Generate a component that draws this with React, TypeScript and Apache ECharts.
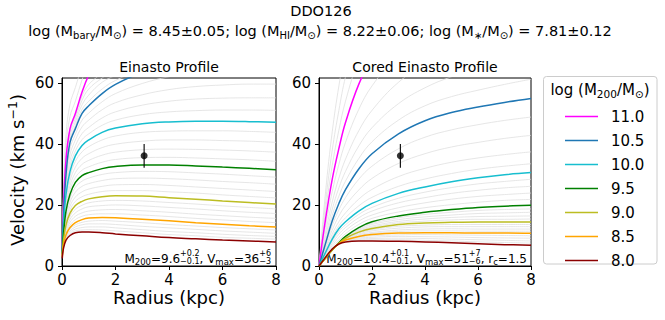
import React, { useEffect, useRef } from "react";
import * as echarts from "echarts";

const FONT = "DejaVu Sans";

// ---------- data ----------
const radiusEinasto = [0.01, 0.05, 0.15, 0.3, 0.5, 0.75, 1, 1.5, 2, 3, 4, 5, 6, 7, 8];
const radiusCored = [0, 0.25, 0.5, 0.75, 1, 1.5, 2, 3, 4, 5, 6, 7, 8];

const legendLabels = ["11.0", "10.5", "10.0", "9.5", "9.0", "8.5", "8.0"];
const legendColors = ["#ff00ff", "#1f77b4", "#17becf", "#008000", "#bcbd22", "#ffa500", "#8b0000"];

// Einasto profile, highlighted halo masses (log M200 = 11.0 ... 8.0)
const einasto110 = [5.5, 18, 35, 45, 50, 57, 62.5, 70, 76, 84, 90, 94, 97, 99, 100];
const einasto105 = [5, 15, 30, 40.5, 45, 50, 52.5, 56.5, 59.5, 63.5, 66, 67.5, 68.3, 68.7, 68.8];
const einasto100 = [4.5, 12.5, 23.5, 31, 36.1, 39.5, 41.3, 43.8, 45.2, 46.6, 47.2, 47.4, 47.4, 47.3, 47.1];
const einasto95 = [4, 10, 18, 23.5, 27.4, 29.6, 30.6, 31.9, 32.6, 33.1, 33.1, 32.8, 32.4, 32.0, 31.5];
const einasto90 = [3.5, 8, 13.5, 17.3, 19.8, 21.2, 22.0, 22.7, 23.0, 22.9, 22.4, 21.9, 21.3, 20.8, 20.3];
const einasto85 = [3, 6.5, 10.2, 12.6, 14.2, 15.2, 15.7, 15.9, 15.8, 15.3, 14.8, 14.2, 13.7, 13.2, 12.8];
const einasto80 = [2.5, 5.5, 8.5, 10.0, 10.9, 11.1, 11.1, 10.9, 10.5, 9.9, 9.3, 8.9, 8.5, 8.2, 7.9];

// Einasto profile, grey model grid (log M200 = 8.1 ... 11.2, skipping highlighted ones)
const einastoGrey = [
  [2.6, 5.7, 8.8, 10.5, 11.5, 11.8, 11.9, 11.8, 11.5, 10.9, 10.3, 9.9, 9.4, 9.1, 8.8],
  [2.7, 5.9, 9.1, 11.0, 12.1, 12.6, 12.8, 12.8, 12.5, 11.9, 11.3, 10.9, 10.4, 10.0, 9.7],
  [2.8, 6.1, 9.5, 11.5, 12.8, 13.5, 13.8, 13.8, 13.6, 13.0, 12.5, 12.0, 11.5, 11.1, 10.7],
  [2.9, 6.3, 9.8, 12.1, 13.5, 14.3, 14.7, 14.9, 14.7, 14.2, 13.6, 13.1, 12.6, 12.2, 11.8],
  [3.1, 6.8, 10.8, 13.4, 15.2, 16.3, 16.8, 17.1, 17.1, 16.7, 16.2, 15.6, 15.1, 14.6, 14.2],
  [3.2, 7.1, 11.4, 14.3, 16.3, 17.4, 18.0, 18.4, 18.5, 18.1, 17.6, 17.0, 16.5, 16.0, 15.6],
  [3.3, 7.4, 12.1, 15.3, 17.4, 18.7, 19.4, 19.8, 20.0, 19.7, 19.2, 18.7, 18.1, 17.6, 17.2],
  [3.4, 7.7, 12.8, 16.3, 18.6, 19.9, 20.7, 21.3, 21.5, 21.3, 20.8, 20.3, 19.7, 19.2, 18.7],
  [3.6, 8.4, 14.3, 18.4, 21.2, 22.7, 23.5, 24.4, 24.7, 24.7, 24.3, 23.9, 23.3, 22.8, 22.3],
  [3.7, 8.7, 15.2, 19.6, 22.6, 24.3, 25.2, 26.1, 26.6, 26.7, 26.4, 25.9, 25.4, 24.9, 24.4],
  [3.8, 9.2, 16.1, 20.9, 24.2, 26.1, 27.0, 28.0, 28.6, 28.8, 28.6, 28.2, 27.7, 27.3, 26.8],
  [3.9, 9.6, 17.1, 22.2, 25.8, 27.8, 28.8, 30.0, 30.6, 31.0, 30.9, 30.5, 30.1, 29.6, 29.1],
  [4.1, 10.5, 19.0, 24.9, 29.0, 31.4, 32.5, 34.0, 34.9, 35.5, 35.6, 35.4, 35.1, 34.8, 34.3],
  [4.2, 10.9, 20.0, 26.3, 30.6, 33.3, 34.6, 36.3, 37.3, 38.1, 38.3, 38.2, 38.0, 37.7, 37.3],
  [4.3, 11.5, 21.2, 27.9, 32.4, 35.3, 36.8, 38.8, 39.9, 40.9, 41.3, 41.3, 41.1, 40.9, 40.5],
  [4.4, 12.0, 22.3, 29.4, 34.3, 37.4, 39.1, 41.3, 42.6, 43.8, 44.2, 44.3, 44.3, 44.1, 43.8],
  [4.6, 13.0, 24.7, 32.7, 37.7, 41.4, 43.3, 46.1, 47.8, 49.6, 50.5, 50.9, 51.1, 51.1, 51.0],
  [4.7, 13.4, 25.9, 34.5, 39.4, 43.4, 45.4, 48.5, 50.5, 52.7, 54.0, 54.7, 55.0, 55.1, 55.1],
  [4.8, 14.0, 27.3, 36.5, 41.3, 45.6, 47.8, 51.2, 53.5, 56.1, 57.8, 58.8, 59.3, 59.6, 59.6],
  [4.9, 14.5, 28.6, 38.5, 43.1, 47.8, 50.1, 53.8, 56.5, 59.8, 62, 63.2, 63.8, 64.1, 64.1],
  [5.1, 15.6, 31, 41.5, 46, 51.3, 54, 58, 60.8, 64.5, 67.5, 69.5, 71, 72, 72.5],
  [5.2, 16.2, 32, 42.7, 47.2, 52.8, 56, 60.2, 62.5, 67, 71, 73.5, 75.5, 76.5, 77],
  [5.3, 16.8, 33.2, 43.8, 48.3, 54.3, 58, 61.6, 64.5, 71, 76, 79, 81, 82.5, 83],
  [5.4, 17.4, 34.2, 44.8, 49.2, 55.7, 59.5, 63.5, 70, 77, 82, 86, 88.5, 90.5, 91.5],
  [6, 21, 39, 49, 54, 61, 67, 76, 83, 92, 99, 104, 107, 109, 110],
  [6.5, 24, 43, 53, 58.5, 65.5, 72, 82, 90, 100, 107, 112, 116, 118, 119],
];

// Cored Einasto profile, highlighted halo masses
const cored110 = [0, 15.5, 28.5, 38.5, 47, 59.5, 68, 80, 88, 94, 98, 101, 103];
const cored105 = [0, 7.5, 14.8, 20.5, 25, 31.8, 36.8, 43.3, 47.6, 50.3, 52.1, 53.6, 54.9];
const cored100 = [0, 4.5, 8.8, 12.2, 14.5, 18.0, 20.5, 23.8, 25.9, 27.6, 28.9, 29.9, 30.6];
const cored95 = [0, 2.6, 5.2, 7.6, 9.7, 12.6, 14.5, 16.4, 17.6, 18.5, 19.2, 19.6, 19.9];
const cored90 = [0, 2.7, 5.3, 7.4, 9.1, 11.1, 12.3, 13.6, 14.1, 14.3, 14.4, 14.4, 14.4];
const cored85 = [0, 2.8, 5.4, 7.3, 8.5, 9.7, 10.3, 10.8, 10.9, 10.9, 10.8, 10.8, 10.7];
const cored80 = [0, 2.9, 5.6, 7.2, 7.9, 8.2, 8.2, 8.1, 7.9, 7.6, 7.3, 7.0, 6.8];

// Cored Einasto profile, grey model grid
const coredGrey = [
  [0, 2.9, 5.5, 7.2, 8.0, 8.5, 8.6, 8.6, 8.4, 8.2, 7.9, 7.7, 7.5],
  [0, 2.9, 5.5, 7.2, 8.1, 8.8, 9.0, 9.1, 9.0, 8.8, 8.6, 8.4, 8.2],
  [0, 2.8, 5.5, 7.3, 8.2, 9.1, 9.4, 9.7, 9.6, 9.5, 9.3, 9.2, 9.1],
  [0, 2.8, 5.4, 7.3, 8.4, 9.4, 9.9, 10.2, 10.3, 10.2, 10.1, 10.0, 9.9],
  [0, 2.8, 5.4, 7.3, 8.6, 9.9, 10.7, 11.3, 11.5, 11.5, 11.4, 11.4, 11.4],
  [0, 2.8, 5.4, 7.3, 8.7, 10.2, 11.0, 11.8, 12.1, 12.2, 12.1, 12.1, 12.1],
  [0, 2.7, 5.3, 7.4, 8.9, 10.5, 11.5, 12.4, 12.8, 12.9, 12.9, 12.9, 12.9],
  [0, 2.7, 5.3, 7.4, 9.0, 10.8, 11.9, 13.0, 13.4, 13.6, 13.6, 13.6, 13.6],
  [0, 2.7, 5.3, 7.5, 9.2, 11.4, 12.7, 14.1, 14.7, 15.1, 15.3, 15.3, 15.4],
  [0, 2.7, 5.3, 7.5, 9.3, 11.7, 13.1, 14.6, 15.4, 15.9, 16.2, 16.3, 16.4],
  [0, 2.6, 5.2, 7.5, 9.5, 12.0, 13.6, 15.2, 16.1, 16.7, 17.2, 17.4, 17.6],
  [0, 2.6, 5.2, 7.6, 9.6, 12.3, 14.0, 15.8, 16.9, 17.6, 18.2, 18.5, 18.7],
  [0, 3.0, 6.0, 8.5, 10.6, 13.6, 15.6, 17.7, 19.1, 20.1, 20.9, 21.5, 21.8],
  [0, 3.4, 6.7, 9.4, 11.6, 14.7, 16.7, 19.1, 20.7, 21.9, 22.8, 23.4, 23.9],
  [0, 3.7, 7.4, 10.4, 12.6, 15.8, 18.0, 20.7, 22.4, 23.8, 24.8, 25.6, 26.1],
  [0, 4.1, 8.1, 11.3, 13.5, 16.9, 19.2, 22.2, 24.2, 25.7, 26.9, 27.7, 28.4],
  [0, 4.9, 9.5, 13.2, 15.8, 19.7, 22.5, 26.1, 28.5, 30.3, 31.7, 32.7, 33.5],
  [0, 5.3, 10.5, 14.5, 17.4, 21.9, 25.1, 29.3, 32.0, 34.0, 35.4, 36.5, 37.4],
  [0, 6.0, 11.8, 16.4, 19.8, 24.9, 28.7, 33.6, 36.8, 39.0, 40.5, 41.8, 42.8],
  [0, 6.8, 13.3, 18.4, 22.4, 28.4, 32.7, 38.4, 42.2, 44.6, 46.3, 47.7, 48.8],
  [0, 8.5, 16.6, 22.9, 27.8, 35.2, 40.7, 47.8, 52.5, 55.5, 57.6, 59.5, 61.2],
  [0, 9.7, 18.6, 25.6, 31.0, 39.3, 45.3, 53.2, 58.4, 62, 64.5, 66.5, 68],
  [0, 11.1, 21.0, 28.8, 35.0, 44.3, 51.0, 60.2, 66, 70, 73, 75, 77],
  [0, 13.1, 24.4, 33.3, 40.5, 51.3, 59.0, 69.5, 76.5, 81.5, 85, 87.5, 89.5],
  [0, 18, 33, 44.5, 54, 68, 78, 91, 100, 106, 111, 114, 116],
  [0, 21, 38, 51, 62, 78, 89, 104, 114, 121, 126, 130, 132],
  [0, 24.5, 44, 59, 71, 89, 101, 118, 129, 137, 143, 147, 150],
];

// observed rotation velocity
const obsRadius = 3.07;
const obsVelocity = 36.1;
const obsLow = 32.2;
const obsHigh = 40.0;

const xTicks = [0, 2, 4, 6, 8];
const yTicks = [0, 20, 40, 60];

const einastoColored = [einasto110, einasto105, einasto100, einasto95, einasto90, einasto85, einasto80];
const coredColored = [cored110, cored105, cored100, cored95, cored90, cored85, cored80];

// ---------- text helpers ----------
let measureCtx: CanvasRenderingContext2D | null = null;
function textWidth(text: string, fs: number) {
  if (!measureCtx) measureCtx = document.createElement("canvas").getContext("2d");
  measureCtx!.font = `${fs}px "${FONT}"`;
  return measureCtx!.measureText(text).width;
}

function txt(text: string, x: number, baseline: number, fs: number) {
  return {
    type: "text",
    x,
    y: baseline - 0.346 * fs,
    silent: true,
    style: {
      text,
      fontSize: fs,
      fontFamily: FONT,
      fill: "#000",
      lineHeight: Math.round(fs * 0.9),
      align: "left",
      verticalAlign: "middle",
      textAlign: "left",
      textVerticalAlign: "middle",
    },
  };
}

type Seg =
  | { t: string; fs: number; dy?: number }
  | { sup: string; sub: string; fs: number; supDy: number; subDy: number };

function richLine(segs: Seg[], x: number, baseline: number, align: "left" | "center" | "right") {
  const widths = segs.map((s: any) =>
    "t" in s ? textWidth(s.t, s.fs) : Math.max(textWidth(s.sup, s.fs), textWidth(s.sub, s.fs))
  );
  const total = widths.reduce((a, b) => a + b, 0);
  let cx = align === "left" ? x : align === "center" ? x - total / 2 : x - total;
  const els: any[] = [];
  segs.forEach((s: any, i) => {
    if ("t" in s) els.push(txt(s.t, cx, baseline + (s.dy || 0), s.fs));
    else {
      els.push(txt(s.sup, cx, baseline + s.supDy, s.fs));
      els.push(txt(s.sub, cx, baseline + s.subDy, s.fs));
    }
    cx += widths[i];
  });
  return els;
}

export default function App() {
  const ref = useRef<HTMLDivElement>(null);

  useEffect(() => {
    if (!ref.current) return;
    const chart = echarts.init(ref.current, undefined, { renderer: "svg" });

    const grids = [
      { left: 62, top: 78, width: 214, height: 188 },
      { left: 319, top: 78, width: 212, height: 188 },
    ];

    const axisCommon = {
      axisLine: { show: true, onZero: false, lineStyle: { color: "#000", width: 1 } },
      axisTick: { show: true, length: 4, inside: false, lineStyle: { color: "#000", width: 1 } },
      splitLine: { show: false },
    };

    const xAxis = [0, 1].map((i) => ({
      type: "value",
      gridIndex: i,
      min: 0,
      max: 8,
      interval: 2,
      ...axisCommon,
      axisTick: { ...axisCommon.axisTick, customValues: xTicks },
      axisLabel: { fontSize: 15, lineHeight: 12, color: "#000", fontFamily: FONT, margin: 8, customValues: xTicks },
    }));
    const yAxis = [0, 1].map((i) => ({
      type: "value",
      gridIndex: i,
      min: 0,
      max: 61.6,
      interval: 20,
      ...axisCommon,
      axisTick: { ...axisCommon.axisTick, customValues: yTicks },
      axisLabel: { fontSize: 15, color: "#000", fontFamily: FONT, margin: 8, customValues: yTicks },
    }));

    const series: any[] = [];
    const addPanel = (p: number, radius: number[], greys: number[][], colored: number[][]) => {
      greys.forEach((v) =>
        series.push({
          type: "line",
          xAxisIndex: p,
          yAxisIndex: p,
          data: radius.map((r, k) => [r, v[k]]),
          symbol: "none",
          smooth: 0.4,
          silent: true,
          lineStyle: { color: "#e0e0e0", width: 0.8 },
          z: 1,
        })
      );
      colored.forEach((v, j) =>
        series.push({
          name: legendLabels[j],
          type: "line",
          xAxisIndex: p,
          yAxisIndex: p,
          data: radius.map((r, k) => [r, v[k]]),
          symbol: "none",
          smooth: 0.4,
          silent: true,
          color: legendColors[j],
          lineStyle: { color: legendColors[j], width: 1.5 },
          z: 2,
        })
      );
      series.push({
        type: "line",
        xAxisIndex: p,
        yAxisIndex: p,
        data: [
          [obsRadius, obsLow],
          [obsRadius, obsHigh],
        ],
        symbol: "none",
        silent: true,
        lineStyle: { color: "#000", width: 1.1 },
        z: 3,
      });
      series.push({
        type: "scatter",
        xAxisIndex: p,
        yAxisIndex: p,
        data: [[obsRadius, obsVelocity]],
        symbolSize: 7,
        itemStyle: { color: "#000" },
        silent: true,
        z: 4,
      });
    };
    addPanel(0, radiusEinasto, einastoGrey, einastoColored);
    addPanel(1, radiusCored, coredGrey, coredColored);

    const graphics: any[] = [];
    // titles
    graphics.push(...richLine([{ t: "DDO126", fs: 14.5 }], 321, 16.5, "center"));
    const sub = { fs: 10, dy: 3 };
    graphics.push(
      ...richLine(
        [
          { t: "log (M", fs: 14.5 },
          { t: "bary", ...sub },
          { t: "/M", fs: 14.5 },
          { t: "⊙", ...sub },
          { t: ") = 8.45±0.05; log (M", fs: 14.5 },
          { t: "HI", ...sub },
          { t: "/M", fs: 14.5 },
          { t: "⊙", ...sub },
          { t: ") = 8.22±0.06; log (M", fs: 14.5 },
          { t: "∗", ...sub },
          { t: "/M", fs: 14.5 },
          { t: "⊙", ...sub },
          { t: ") = 7.81±0.12", fs: 14.5 },
        ],
        320,
        36,
        "center"
      )
    );
    graphics.push(...richLine([{ t: "Einasto Profile", fs: 14 }], 169, 71.5, "center"));
    graphics.push(...richLine([{ t: "Cored Einasto Profile", fs: 14 }], 425, 71.5, "center"));
    // axis titles
    graphics.push(...richLine([{ t: "Radius (kpc)", fs: 18 }], 169, 304, "center"));
    graphics.push(...richLine([{ t: "Radius (kpc)", fs: 18 }], 425, 304, "center"));
    graphics.push({
      type: "group",
      x: 24,
      y: 170,
      rotation: Math.PI / 2,
      silent: true,
      children: richLine(
        [
          { t: "Velocity (km s", fs: 18 },
          { t: "−1", fs: 12.5, dy: -7 },
          { t: ")", fs: 18 },
        ],
        0,
        0,
        "center"
      ),
    });
    // fit annotations
    const aSub = { fs: 8.5, dy: 2 };
    const stack = (a: string, b: string) => ({ sup: a, sub: b, fs: 8, supDy: -6.5, subDy: 1.5 });
    graphics.push(
      ...richLine(
        [
          { t: "M", fs: 12 },
          { t: "200", ...aSub },
          { t: "=9.6", fs: 12 },
          stack("+0.2", "−0.1"),
          { t: ", V", fs: 12 },
          { t: "max", ...aSub },
          { t: "=36", fs: 12 },
          stack("+6", "−3"),
        ],
        271,
        263,
        "right"
      )
    );
    graphics.push(
      ...richLine(
        [
          { t: "M", fs: 12 },
          { t: "200", ...aSub },
          { t: "=10.4", fs: 12 },
          stack("+0.1", "−0.1"),
          { t: ", V", fs: 12 },
          { t: "max", ...aSub },
          { t: "=51", fs: 12 },
          stack("+7", "−6"),
          { t: ", r", fs: 12 },
          { t: "c", ...aSub },
          { t: "=1.5", fs: 12 },
        ],
        527,
        263,
        "right"
      )
    );
    // legend frame and title
    graphics.push({
      type: "rect",
      silent: true,
      z: -1,
      shape: { x: 543.5, y: 76.5, width: 113.5, height: 187.5, r: 3 },
      style: { fill: "#fff", stroke: "#cccccc", lineWidth: 1 },
    });
    graphics.push(
      ...richLine(
        [
          { t: "log (M", fs: 15 },
          { t: "200", fs: 10.5, dy: 3 },
          { t: "/M", fs: 15 },
          { t: "⊙", fs: 10.5, dy: 3 },
          { t: ")", fs: 15 },
        ],
        600,
        95,
        "center"
      )
    );

    chart.setOption({
      animation: false,
      grid: grids.map((g) => ({ ...g, show: true, borderColor: "#000", borderWidth: 1, backgroundColor: "transparent" })),
      xAxis,
      yAxis,
      legend: {
        data: legendLabels,
        orient: "vertical",
        left: 560,
        top: 104,
        icon: "rect",
        itemWidth: 33,
        itemHeight: 1.5,
        itemGap: 9,
        selectedMode: false,
        formatter: "{a|{name}}",
        textStyle: {
          fontSize: 15,
          color: "#000",
          fontFamily: FONT,
          lineHeight: 14,
          rich: { a: { fontSize: 15, color: "#000", fontFamily: FONT, lineHeight: 14, padding: [0, 0, 0, 8] } },
        },
      },
      series,
      graphic: graphics,
    });

    return () => chart.dispose();
  }, []);

  return (
    <div
      ref={ref}
      style={{ position: "fixed", left: 0, top: 0, width: 665, height: 320, background: "#fff" }}
    />
  );
}
